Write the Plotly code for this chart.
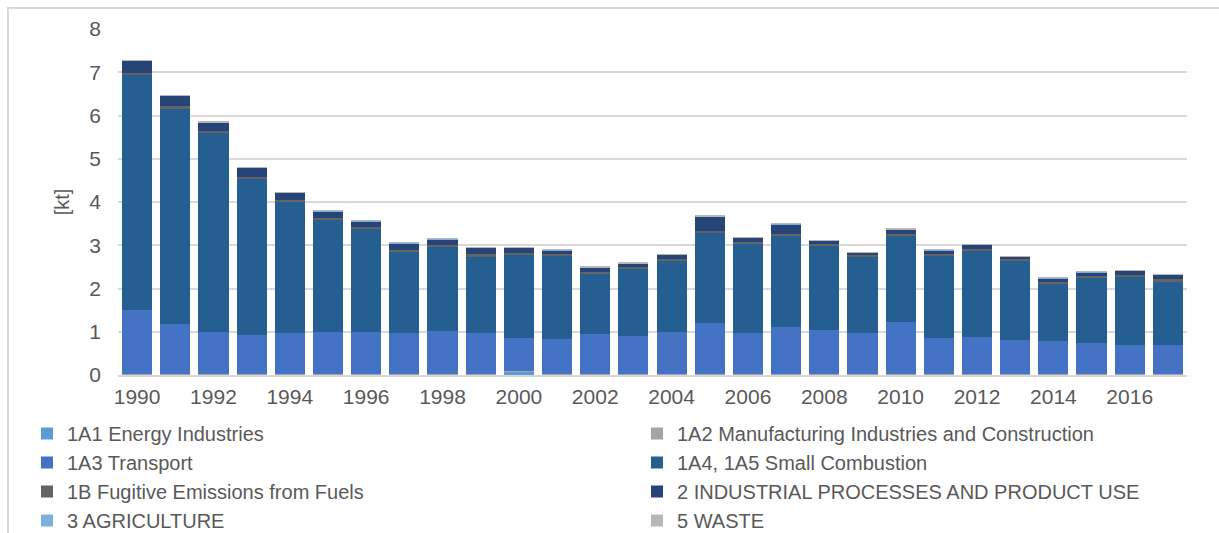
import plotly.graph_objects as go

years = list(range(1990, 2018))

e_1A1 = [0.02, 0.02, 0.02, 0.02, 0.02, 0.02, 0.02, 0.02, 0.02, 0.02, 0.08, 0.02, 0.02, 0.02,
         0.02, 0.02, 0.02, 0.02, 0.02, 0.02, 0.02, 0.02, 0.02, 0.02, 0.02, 0.02, 0.02, 0.02]
e_1A2 = [0.01, 0.01, 0.01, 0.01, 0.01, 0.01, 0.01, 0.01, 0.01, 0.01, 0.01, 0.01, 0.01, 0.01,
         0.01, 0.01, 0.01, 0.01, 0.01, 0.01, 0.01, 0.01, 0.01, 0.01, 0.01, 0.01, 0.01, 0.01]
e_1A3 = [1.47, 1.15, 0.97, 0.89, 0.94, 0.97, 0.97, 0.94, 0.99, 0.93, 0.76, 0.81, 0.91, 0.88,
         0.97, 1.18, 0.93, 1.09, 1.02, 0.93, 1.20, 0.82, 0.85, 0.79, 0.75, 0.72, 0.66, 0.66]
e_1A4 = [5.44, 4.98, 4.60, 3.61, 3.03, 2.58, 2.37, 1.87, 1.93, 1.78, 1.93, 1.91, 1.40, 1.54,
         1.63, 2.07, 2.06, 2.10, 1.93, 1.76, 1.99, 1.90, 1.99, 1.81, 1.32, 1.50, 1.58, 1.47]
e_1B = [0.05, 0.05, 0.05, 0.05, 0.05, 0.05, 0.05, 0.05, 0.05, 0.05, 0.05, 0.05, 0.05, 0.05,
        0.05, 0.05, 0.05, 0.05, 0.05, 0.05, 0.05, 0.05, 0.05, 0.05, 0.05, 0.05, 0.05, 0.05]
e_2 = [0.28, 0.25, 0.19, 0.21, 0.16, 0.16, 0.14, 0.16, 0.14, 0.15, 0.11, 0.09, 0.10, 0.08,
       0.10, 0.34, 0.10, 0.22, 0.08, 0.06, 0.10, 0.09, 0.09, 0.06, 0.09, 0.08, 0.09, 0.11]
e_3 = [0.005, 0.005, 0.005, 0.005, 0.005, 0.005, 0.005, 0.005, 0.005, 0.005, 0.005, 0.005, 0.005, 0.005,
       0.005, 0.005, 0.005, 0.005, 0.005, 0.005, 0.005, 0.005, 0.005, 0.005, 0.005, 0.005, 0.005, 0.005]
e_5 = [0.005, 0.005, 0.005, 0.005, 0.005, 0.005, 0.005, 0.005, 0.005, 0.005, 0.005, 0.005, 0.005, 0.005,
       0.005, 0.005, 0.005, 0.005, 0.005, 0.005, 0.005, 0.005, 0.005, 0.005, 0.005, 0.005, 0.005, 0.005]

series_names = [
    "1A1 Energy Industries",
    "1A2 Manufacturing Industries and Construction",
    "1A3 Transport",
    "1A4, 1A5 Small Combustion",
    "1B Fugitive Emissions from Fuels",
    "2 INDUSTRIAL PROCESSES AND PRODUCT USE",
    "3 AGRICULTURE",
    "5 WASTE",
]
series_values = [e_1A1, e_1A2, e_1A3, e_1A4, e_1B, e_2, e_3, e_5]
series_colors = ["#5B9BD5", "#A5A5A5", "#4472C4", "#255E91",
                 "#636363", "#264478", "#7CAFDD", "#B7B7B7"]
# legend column for each series (two-column legend, read row by row)
series_legend = ["legend", "legend2", "legend", "legend2",
                 "legend", "legend2", "legend", "legend2"]

FONT = "Liberation Sans, Arial, sans-serif"
TXT = "#595959"

fig = go.Figure()
for name, vals, col, lg in zip(series_names, series_values, series_colors, series_legend):
    fig.add_trace(go.Bar(x=years, y=vals, name=name, legend=lg,
                         marker=dict(color=col, line=dict(width=0))))

W, H = 1219, 533
L, R, T, B = 118, 32, 29, 158
pw, ph = W - L - R, H - T - B

def px_x(x):
    return (x - L) / pw

def px_y(y):
    return (H - B - y) / ph

legend_common = dict(orientation="v", xanchor="left", yanchor="top",
                     traceorder="normal", font=dict(size=20, color=TXT),
                     itemwidth=30, bgcolor="rgba(0,0,0,0)", tracegroupgap=0)

fig.update_layout(
    width=W, height=H,
    barmode="stack", bargap=0.21,
    paper_bgcolor="white", plot_bgcolor="white",
    margin=dict(l=L, r=R, t=T, b=B, autoexpand=False),
    font=dict(family=FONT, color=TXT, size=20),
    xaxis=dict(tickmode="linear", tick0=1990, dtick=2, range=[1989.5, 2017.5],
               showgrid=False, showline=True, linecolor="#d9d9d9", linewidth=2,
               ticks="", tickfont=dict(size=21, color=TXT), ticklabelstandoff=2),
    yaxis=dict(range=[0, 8], dtick=1, showgrid=True, gridcolor="#d9d9d9", gridwidth=2,
               zeroline=False, showline=False, ticks="",
               tickfont=dict(size=21, color=TXT), ticklabelstandoff=16,
               title=dict(text="[kt]", font=dict(size=20, color=TXT), standoff=14)),
    legend=dict(x=px_x(27), y=px_y(414), **legend_common),
    legend2=dict(x=px_x(637), y=px_y(414), **legend_common),
    shapes=[dict(type="rect", xref="paper", yref="paper",
                 x0=px_x(8), x1=px_x(1240), y0=px_y(560), y1=px_y(8),
                 line=dict(color="#d9d9d9", width=2), fillcolor="rgba(0,0,0,0)",
                 layer="below")],
)

fig.write_html("out.html", config={"displayModeBar": False},
               post_script="document.body.style.margin='0px';")
